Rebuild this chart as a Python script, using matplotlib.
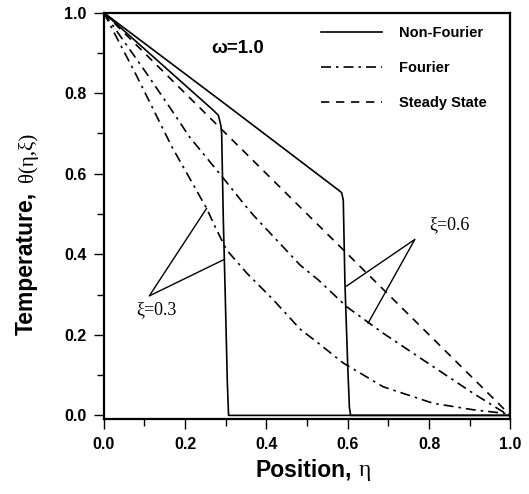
import matplotlib
matplotlib.use("Agg")
import matplotlib.pyplot as plt
from matplotlib.ticker import MultipleLocator, FormatStrFormatter

# Non-Fourier solution, xi = 0.3 and xi = 0.6
nf03_eta = [0.0, 0.1, 0.2, 0.27, 0.282, 0.288, 0.290, 0.294, 0.300, 0.304, 0.307, 1.0]
nf03_theta = [1.0, 0.91, 0.82, 0.757, 0.745, 0.72, 0.70, 0.49, 0.25, 0.08, 0.0, 0.0]
nf06_eta = [0.0, 0.3, 0.575, 0.585, 0.589, 0.593, 0.600, 0.604, 0.607, 1.0]
nf06_theta = [1.0, 0.772, 0.561, 0.553, 0.534, 0.33, 0.12, 0.02, 0.0, 0.0]

# Fourier solution, xi = 0.3 and xi = 0.6
f03_eta = [0.0, 0.08, 0.167, 0.253, 0.274, 0.302, 0.352, 0.417, 0.483, 0.528, 0.589, 0.687, 0.81, 0.908, 0.986, 1.0]
f03_theta = [1.0, 0.845, 0.668, 0.514, 0.468, 0.411, 0.353, 0.287, 0.214, 0.179, 0.13, 0.071, 0.03, 0.014, 0.005, 0.0]
f06_eta = [0.0, 0.1, 0.167, 0.212, 0.294, 0.343, 0.368, 0.483, 0.528, 0.597, 0.687, 0.81, 0.908, 0.986, 1.0]
f06_theta = [1.0, 0.857, 0.758, 0.69, 0.589, 0.527, 0.497, 0.373, 0.336, 0.27, 0.204, 0.121, 0.055, 0.006, 0.0]

# Steady state
ss_eta = [0.0, 1.0]
ss_theta = [1.0, 0.0]

plt.rcParams['font.family'] = 'Liberation Sans'
plt.rcParams['font.weight'] = 'bold'

fig = plt.figure(figsize=(5.29, 4.94), dpi=100)
ax = fig.add_axes([0.196, 0.151, 0.769, 0.8235])

lw = 1.2
ax.plot(nf03_eta, nf03_theta, color='black', lw=lw, label='Non-Fourier')
ax.plot(nf06_eta, nf06_theta, color='black', lw=lw)
ax.plot(f03_eta, f03_theta, color='black', lw=lw, dashes=(6, 3, 1.5, 3), label='Fourier')
ax.plot(f06_eta, f06_theta, color='black', lw=lw, dashes=(6, 3, 1.5, 3))
ax.plot(ss_eta, ss_theta, color='black', lw=lw, dashes=(5, 4), label='Steady State')

ax.set_xlim(0, 1.0)
ax.set_ylim(-0.01, 1.0)
ax.xaxis.set_major_locator(MultipleLocator(0.2))
ax.xaxis.set_minor_locator(MultipleLocator(0.1))
ax.yaxis.set_major_locator(MultipleLocator(0.2))
ax.yaxis.set_minor_locator(MultipleLocator(0.1))
ax.xaxis.set_major_formatter(FormatStrFormatter('%.1f'))
ax.yaxis.set_major_formatter(FormatStrFormatter('%.1f'))
ax.tick_params(which='major', direction='out', length=7.5, width=1.0, labelsize=11.5, pad=5)
ax.tick_params(which='minor', direction='out', length=5, width=1.0)
for s in ax.spines.values():
    s.set_linewidth(1.6)
for t in ax.get_xticklabels() + ax.get_yticklabels():
    t.set_fontweight('bold')

leg = ax.legend(loc='upper right', frameon=False, fontsize=10.5, handlelength=4.2,
                handletextpad=1.2, labelspacing=1.45, bbox_to_anchor=(0.975, 1.0))
for t in leg.get_texts():
    t.set_fontweight('bold')

# omega label
ax.text(0.33, 0.912, 'ω=1.0', fontsize=13.5, fontweight='bold', ha='center', va='center')

# xi labels with leader lines
ax.text(0.129, 0.262, 'ξ=0.3', family='Liberation Serif', fontweight='normal', fontsize=13,
        ha='center', va='center')
ax.plot([0.253, 0.112, 0.294], [0.514, 0.2965, 0.386], color='black', lw=1.0)
ax.text(0.849, 0.473, 'ξ=0.6', family='Liberation Serif', fontweight='normal', fontsize=13,
        ha='center', va='center')
ax.plot([0.597, 0.765, 0.65], [0.321, 0.437, 0.229], color='black', lw=1.0)

# axis labels, bold sans word plus serif symbol
fig.text(352 / 529, 1 - 470 / 494, 'Position,', fontsize=16.5, fontweight='bold',
         ha='right', va='center')
fig.text(359 / 529, 1 - 470 / 494, 'η', fontsize=17, family='Liberation Serif',
         fontweight='normal', ha='left', va='center')
ylab = fig.text(33 / 529, 1 - 335 / 494, 'Temperature,', fontsize=16.5, fontweight='bold',
                rotation=90, rotation_mode='anchor', ha='left', va='baseline')
fig.canvas.draw()
top = ylab.get_window_extent().y1
fig.text(33 / 529, (top + 10) / 494, 'θ(η,ξ)', fontsize=15, family='Liberation Serif',
         fontweight='normal', rotation=90, rotation_mode='anchor', ha='left', va='baseline')

fig.savefig('out.png', dpi=100)
